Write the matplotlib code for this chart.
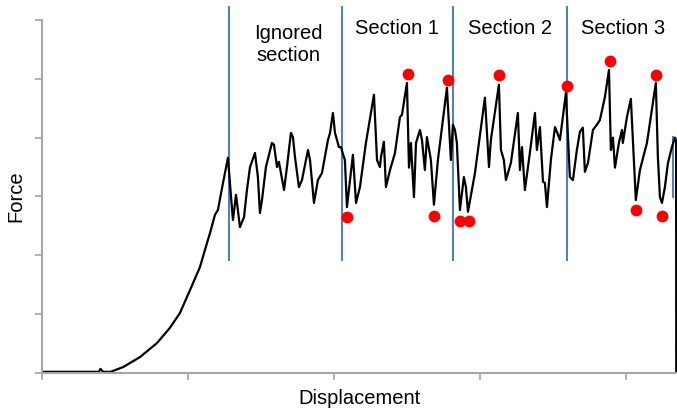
import matplotlib.pyplot as plt

# force-displacement curve (arbitrary units)
disp = [0.0, 0.39, 0.40, 0.42, 0.47, 0.555, 0.671, 0.788, 0.877, 0.945, 1.014, 1.082,
        1.116, 1.151, 1.185, 1.205, 1.240, 1.274,
        1.295, 1.308, 1.329, 1.342, 1.356, 1.384, 1.404, 1.425, 1.438, 1.459, 1.479,
        1.493, 1.507, 1.534, 1.575, 1.589, 1.610, 1.623, 1.658, 1.678, 1.705, 1.719,
        1.733, 1.760, 1.781, 1.822, 1.836, 1.863, 1.890, 1.918, 1.959, 1.973, 1.993,
        2.007, 2.021, 2.034, 2.048, 2.062, 2.075, 2.089,
        2.130, 2.151, 2.178, 2.219, 2.274, 2.295, 2.315, 2.322, 2.342, 2.356, 2.384,
        2.418, 2.452, 2.466, 2.500, 2.514, 2.527, 2.548, 2.562, 2.589, 2.603, 2.623,
        2.637, 2.664, 2.685, 2.712, 2.774,
        2.801, 2.815, 2.829, 2.842, 2.863, 2.890, 2.904, 2.918, 2.966, 3.034, 3.062,
        3.075, 3.130, 3.144, 3.164, 3.178, 3.212, 3.260, 3.274, 3.288, 3.308, 3.342,
        3.377, 3.390, 3.411, 3.432, 3.445, 3.459, 3.486, 3.514, 3.527, 3.548, 3.589,
        3.616, 3.637, 3.664, 3.685, 3.705, 3.719, 3.740, 3.774, 3.801, 3.822, 3.856,
        3.884, 3.897, 3.911, 3.925, 3.952, 3.973, 3.979, 4.007, 4.034, 4.068, 4.096,
        4.144, 4.205, 4.219, 4.233, 4.247, 4.267, 4.288, 4.315, 4.336, 4.344, 4.345]
force = [0.02, 0.02, 0.07, 0.02, 0.02, 0.10, 0.27, 0.51, 0.77, 1.02, 1.41, 1.80,
         2.09, 2.38, 2.69, 2.77, 3.23, 3.66,
         2.99, 2.60, 3.03, 2.77, 2.48, 2.65, 3.11, 3.50, 3.59, 3.74, 3.33,
         2.72, 2.94, 3.50, 3.91, 3.88, 3.50, 3.59, 3.11, 3.50, 4.08, 4.01,
         3.67, 3.16, 3.28, 3.79, 3.62, 2.89, 3.28, 3.40, 3.96, 4.08, 4.42,
         4.08, 3.96, 3.84, 3.84, 3.72, 3.62, 2.82,
         3.71, 2.89, 3.16, 3.91, 4.73, 3.62, 3.50, 3.67, 3.93, 3.16, 3.45,
         3.74, 4.35, 4.39, 4.93, 3.49, 3.91, 2.99, 3.91, 4.13, 3.96, 3.45,
         4.01, 3.62, 2.86, 3.62, 4.85,
         3.62, 4.22, 4.13, 3.91, 2.77, 3.33, 3.16, 2.74, 3.40, 4.68, 3.50,
         3.96, 4.90, 3.79, 3.62, 3.28, 3.57, 4.42, 3.45, 3.84, 3.11, 3.74,
         4.42, 3.79, 4.18, 3.25, 3.23, 2.82, 3.62, 4.18, 4.10, 3.96, 4.76,
         3.33, 3.28, 3.79, 4.10, 4.17, 3.42, 3.57, 4.13, 4.22, 4.30, 4.69,
         5.15, 3.79, 4.00, 3.49, 3.91, 4.13, 3.91, 4.35, 4.66, 2.94, 3.45,
         3.91, 4.93, 3.67, 2.99, 2.89, 3.16, 3.57, 3.84, 4.00, 3.96, 0.0]

# picked peaks and valleys
dot_disp = [2.089, 2.507, 2.685, 2.781, 2.863, 2.925, 3.130, 3.596, 3.890, 4.068, 4.205, 4.247]
dot_force = [2.65, 5.09, 2.67, 4.98, 2.59, 2.59, 5.07, 4.88, 5.31, 2.77, 5.07, 2.67]

# section boundaries
bounds = [1.281, 2.055, 2.815, 3.596]
labels = ['Ignored\nsection', 'Section 1', 'Section 2', 'Section 3']
label_x = [1.685, 2.432, 3.205, 3.979]

plt.rcParams['font.family'] = ['Liberation Sans', 'DejaVu Sans']

fig = plt.figure(figsize=(6.77, 4.11), dpi=100)
ax = fig.add_axes([42 / 677, 38 / 411, 635 / 677, 353 / 411])

for b in bounds:
    ax.plot([b, b], [1.92, 6.22], color='#4f81bd', lw=1.5, clip_on=False, zorder=1)
ax.plot([4.322, 4.322], [2.99, 4.01], color='#4f81bd', lw=1.5, zorder=1)

ax.plot(disp, force, color='black', lw=1.6, zorder=2)
ax.plot(dot_disp, dot_force, 'o', color='#ff0000', ms=8.5, mec='none', zorder=3)

for lx, lab in zip(label_x, labels):
    if '\n' in lab:
        ax.text(lx, 5.58, lab, ha='center', va='center', fontsize=14.5, linespacing=1.2)
    else:
        ax.text(lx, 5.85, lab, ha='center', va='center', fontsize=14.5)

ax.set_xlim(0, 4.35)
ax.set_ylim(0, 6.0)
ax.set_xticks([0, 1, 2, 3, 4])
ax.set_yticks([0, 1, 2, 3, 4, 5, 6])
ax.set_xticklabels([])
ax.set_yticklabels([])
ax.tick_params(colors='#a6a6a6', length=5, width=1.2)
for s in ['top', 'right']:
    ax.spines[s].set_visible(False)
for s in ['left', 'bottom']:
    ax.spines[s].set_color('#a6a6a6')
    ax.spines[s].set_linewidth(1.5)

# axis titles placed in figure coords
fig.text(359 / 677, 1 - 398 / 411, 'Displacement', ha='center', va='center', fontsize=14.5)
fig.text(16 / 677, 1 - 196 / 411, 'Force', ha='center', va='center', fontsize=14.5, rotation=90)

fig.savefig('out.png', dpi=100)
